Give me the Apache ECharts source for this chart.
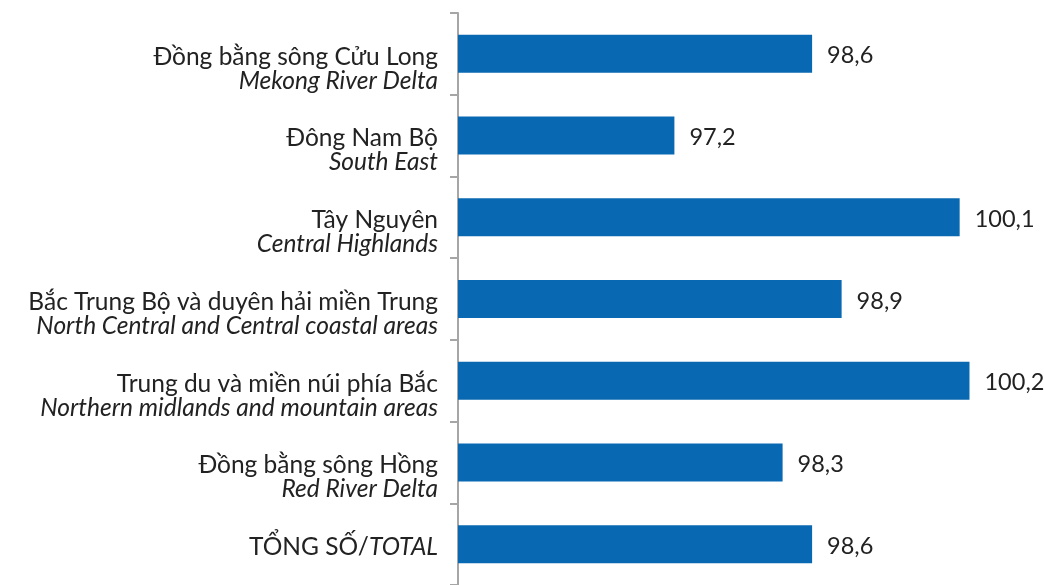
<!DOCTYPE html>
<html>
<head>
<meta charset="utf-8">
<script src="https://cdn.jsdelivr.net/npm/echarts@6/dist/echarts.min.js"></script>
<style>
  html, body { margin: 0; padding: 0; background: #fff; }
  #chart { width: 1044px; height: 585px; }
</style>
</head>
<body>
<div id="chart"></div>
<script>
// Regions, top to bottom: Vietnamese name and English name
const regionsVi = [
  'Đồng bằng sông Cửu Long',
  'Đông Nam Bộ',
  'Tây Nguyên',
  'Bắc Trung Bộ và duyên hải miền Trung',
  'Trung du và miền núi phía Bắc',
  'Đồng bằng sông Hồng',
  'TỔNG SỐ/'
];
const regionsEn = [
  'Mekong River Delta',
  'South East',
  'Central Highlands',
  'North Central and Central coastal areas',
  'Northern midlands and mountain areas',
  'Red River Delta',
  'TOTAL'
];
const values = [98.6, 97.2, 100.1, 98.9, 100.2, 98.3, 98.6];

const FONT = 'Lato, "Noto Sans", sans-serif';
const TEXT = '#222222';
const SIZE = 24.5;

const categories = regionsVi.map((vi, i) => i);

const chart = echarts.init(document.getElementById('chart'), null, { renderer: 'canvas' });
chart.setOption({
  animation: false,
  backgroundColor: '#ffffff',
  grid: { left: 458, right: 45, top: 13, bottom: -6, containLabel: false },
  xAxis: {
    type: 'value',
    min: 95,
    max: 100.5,
    show: false
  },
  yAxis: {
    type: 'category',
    inverse: true,
    data: categories,
    axisLine: { show: true, lineStyle: { color: '#a6a6a6', width: 2 } },
    axisTick: { show: true, length: 8, lineStyle: { color: '#a6a6a6', width: 2 } },
    axisLabel: {
      margin: 20,
      align: 'right',
      padding: [6, 0, 0, 0],
      fontFamily: FONT,
      color: TEXT,
      formatter: function (v) {
        const i = Number(v);
        if (i === regionsVi.length - 1) {
          return '{n|' + regionsVi[i] + '}{e|' + regionsEn[i] + '}';
        }
        // a blank first line keeps the Vietnamese name level with its bar
        return '{s| }\n{n|' + regionsVi[i] + '}\n{e|' + regionsEn[i] + '}';
      },
      rich: {
        s: { fontFamily: FONT, fontSize: SIZE, lineHeight: 24 },
        n: { fontFamily: FONT, fontSize: SIZE, color: TEXT, lineHeight: 24 },
        e: { fontFamily: FONT, fontSize: SIZE, color: TEXT, fontStyle: 'italic', lineHeight: 24 }
      }
    }
  },
  series: [{
    type: 'bar',
    data: values,
    barWidth: 38,
    itemStyle: { color: '#0868b1' },
    label: {
      show: true,
      position: 'right',
      distance: 15,
      offset: [0, 2],
      fontFamily: FONT,
      fontSize: 23.5,
      color: TEXT,
      formatter: p => String(p.value).replace('.', ',')
    }
  }]
});
</script>
</body>
</html>
